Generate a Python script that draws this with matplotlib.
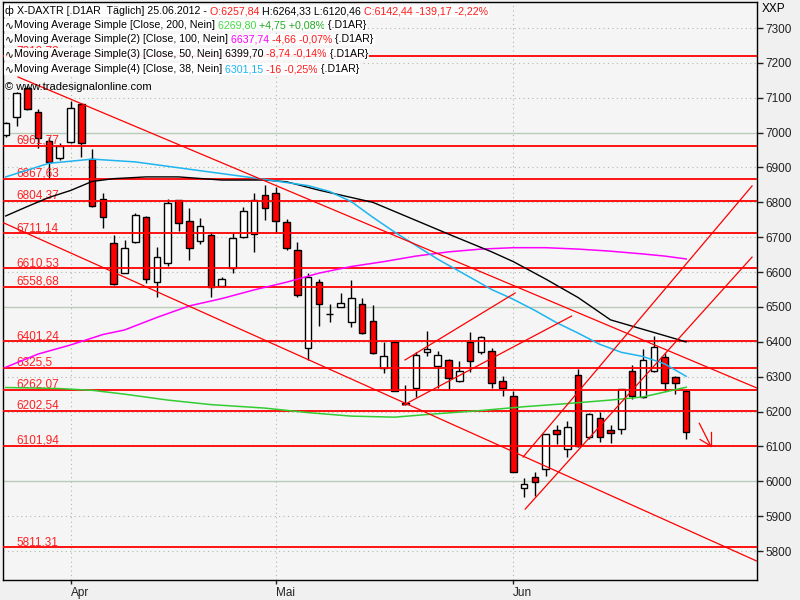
import numpy as np
import matplotlib.pyplot as plt

plt.rcParams['font.family'] = ['Liberation Sans', 'DejaVu Sans']

# --- Kerzen (X-DAXTR, Tageskerzen) ---
dates = ['23.03', '26.03', '27.03', '28.03', '29.03', '30.03',
         '02.04', '03.04', '04.04', '05.04', '10.04', '11.04', '12.04', '13.04', '16.04', '17.04',
         '18.04', '19.04', '20.04', '23.04', '24.04', '25.04', '26.04', '27.04', '30.04',
         '02.05', '03.05', '04.05', '07.05', '08.05', '09.05', '10.05', '11.05', '14.05', '15.05',
         '16.05', '17.05', '18.05', '21.05', '22.05', '23.05', '24.05', '25.05', '28.05', '29.05',
         '30.05', '31.05',
         '01.06', '04.06', '05.06', '06.06', '07.06', '08.06', '11.06', '12.06', '13.06', '14.06',
         '15.06', '18.06', '19.06', '20.06', '21.06', '22.06', '25.06']
opens = [6993, 7044, 7128, 7058, 6976, 6928,
         6974, 7082, 6924, 6809, 6683, 6598, 6685, 6759, 6571, 6625,
         6807, 6747, 6688, 6706, 6561, 6611, 6701, 6710, 6821,
         6826, 6743, 6663, 6381, 6571, 6479, 6501, 6458, 6508, 6460,
         6326, 6399, 6222, 6269, 6372, 6332, 6348, 6289, 6399, 6370,
         6375, 6288,
         6245, 5980, 6011, 6034, 6147, 6094, 6305, 6126, 6181, 6147,
         6151, 6316, 6242, 6317, 6356, 6298, 6257.84]
highs = [7030, 7116, 7135, 7067, 6988, 6969,
         7092, 7085, 6953, 6826, 6706, 6692, 6770, 6760, 6671, 6811,
         6808, 6783, 6754, 6714, 6585, 6711, 6788, 6826, 6850,
         6845, 6751, 6687, 6597, 6580, 6508, 6539, 6577, 6527, 6505,
         6400, 6401, 6276, 6370, 6431, 6374, 6350, 6345, 6427, 6418,
         6383, 6302,
         6259, 6009, 6026, 6135, 6161, 6174, 6322, 6197, 6200, 6161,
         6264, 6334, 6379, 6417, 6369, 6302, 6264.33]
lows = [6988, 7020, 7066, 6955, 6866, 6921,
        6971, 6929, 6788, 6727, 6562, 6596, 6683, 6568, 6529, 6617,
        6719, 6635, 6680, 6529, 6556, 6597, 6697, 6659, 6749,
        6713, 6663, 6530, 6347, 6446, 6458, 6499, 6443, 6422, 6364,
        6310, 6258, 6218, 6241, 6359, 6269, 6262, 6286, 6314, 6364,
        6268, 6244,
        6026, 5954, 5958, 6016, 6108, 6071, 6099, 6120, 6112, 6110,
        6137, 6235, 6239, 6314, 6260, 6251, 6120.46]
closes = [7027, 7114, 7067, 6984, 6916, 6962,
          7070, 6969, 6790, 6757, 6565, 6668, 6765, 6580, 6642, 6797,
          6740, 6668, 6731, 6558, 6580, 6697, 6775, 6807, 6783,
          6747, 6668, 6534, 6585, 6508, 6480, 6510, 6525, 6426, 6369,
          6359, 6259, 6224, 6362, 6379, 6362, 6295, 6317, 6345, 6415,
          6281, 6267,
          6028, 5992, 5997, 6135, 6135, 6157, 6102, 6192, 6126, 6138,
          6264, 6245, 6348, 6384, 6281, 6281, 6142.44]

# --- Gleitende Durchschnitte (Stuetzstellen = Kerzenindex) ---
ma200_idx = [0, 5, 8, 11, 15, 19, 24, 28, 32, 36, 40, 44, 48, 52, 56, 59, 61, 63]
ma200_val = [6269, 6266, 6261, 6250, 6233, 6220, 6210, 6197, 6187, 6184, 6194, 6203,
             6214, 6223, 6233, 6242, 6256, 6269.8]
ma100_idx = [0, 3, 6, 9, 11, 14, 17, 20, 23, 26, 29, 32, 35, 38, 41, 44, 47, 50, 53,
             56, 59, 61, 63]
ma100_val = [6327, 6365, 6391, 6421, 6434, 6470, 6503, 6524, 6549, 6571, 6597, 6616,
             6630, 6646, 6658, 6666, 6670, 6670, 6666, 6660, 6652, 6646, 6637.7]
ma50_idx = [0, 2, 4, 6, 8, 10, 13, 16, 20, 24, 26, 29, 32, 34, 37, 41, 45, 47, 50, 53,
            56, 59, 61, 63]
ma50_val = [6761, 6788, 6814, 6834, 6860, 6868, 6873, 6873, 6864, 6864, 6859, 6835,
            6814, 6800, 6761, 6709, 6658, 6630, 6580, 6527, 6463, 6436, 6418, 6399.7]
ma38_idx = [0, 4, 8, 12, 17, 23, 28, 30, 32, 34, 36, 38, 40, 43, 45, 47, 49, 51, 53,
            55, 57, 59, 61, 63]
ma38_val = [6873, 6912, 6924, 6916, 6895, 6870, 6848, 6831, 6802, 6757, 6715, 6676,
            6637, 6585, 6550, 6522, 6490, 6455, 6425, 6393, 6370, 6358, 6337, 6301.2]

# --- Horizontale Marken ---
levels = [7219.73, 6961.77, 6867.63, 6804.37, 6711.14, 6610.53, 6558.68,
          6401.24, 6325.5, 6262.07, 6202.54, 6101.94, 5811.31]
level_labels = ['7219,73', '6961,77', '6867,63', '6804,37', '6711,14', '6610,53', '6558,68',
                '6401,24', '6325,5', '6262,07', '6202,54', '6101,94', '5811,31']

# --- Trendlinien (Index, Kurs) ---
trend_lines = [
    ((1.14, 7159.5), (69.56, 6267.5)),
    ((-0.25, 6742.0), (69.56, 5771.0)),
    ((36.97, 6348.0), (47.16, 6540.0)),
    ((36.79, 6218.0), (52.4, 6474.0)),
    ((47.9, 6069.6), (69.1, 6847.0)),
    ((48.1, 5920.5), (69.1, 6643.0)),
]
arrow_lines = [
    ((64.22, 6166.4), (65.28, 6101.3)),
    ((64.29, 6120.0), (65.28, 6101.3)),
    ((65.28, 6142.0), (65.28, 6101.3)),
]

month_labels = ['Apr', 'Mai', 'Jun']
y_ticks = list(range(5800, 7301, 100))

# -------------------------------------------------------------------------
fig = plt.figure(figsize=(8, 6), dpi=100, facecolor='#f0f0f0')
ax = fig.add_axes([3 / 800, 20 / 600, 754 / 800, 578 / 600])
ax.set_facecolor('#f5f5f5')

x = np.arange(len(dates))
ax.set_xlim(-0.25, 69.56)
ax.set_ylim(5717, 7374.6)

# Gitter
for v in y_ticks:
    if v % 500 == 0:
        ax.axhline(v, color='#b8ccb8', lw=1.0, zorder=0)
    else:
        ax.axhline(v, color='#a8bca8', lw=0.8, ls=(0, (1, 3)), zorder=0)

month_pos = []
for i in range(1, len(dates)):
    if dates[i][3:] != dates[i - 1][3:]:
        month_pos.append(i)
for p in month_pos:
    ax.axvline(p, color='#a8bca8', lw=0.8, ls=(0, (1, 3)), zorder=0)

# Kerzen
o = np.array(opens)
c = np.array(closes)
ax.vlines(x, lows, highs, color='black', lw=1, zorder=2)
up = c >= o
body_bottom = np.minimum(o, c)
body_h = np.maximum(np.abs(c - o), 1.5)
ax.bar(x, body_h, bottom=body_bottom, width=0.6,
       color=np.where(up, 'white', '#ff0000'), edgecolor='black', linewidth=1, zorder=2.5)

# Horizontale Linien + Beschriftung
ytrans = ax.get_yaxis_transform()
for lv, lab in zip(levels, level_labels):
    ax.axhline(lv, color='#ff0000', lw=1.3, zorder=3)
    ax.annotate(lab, xy=(13 / 754, lv), xycoords=ytrans, xytext=(0, 2),
                textcoords='offset pixels', va='baseline', ha='left',
                color='#ff2020', fontsize=8.5, zorder=3)

# Gleitende Durchschnitte
ax.plot(ma200_idx, ma200_val, color='#33cc33', lw=1.1, zorder=4)
ax.plot(ma100_idx, ma100_val, color='#ff00ff', lw=1.1, zorder=4)
ax.plot(ma50_idx, ma50_val, color='black', lw=1.0, zorder=4)
ax.plot(ma38_idx, ma38_val, color='#1eb4f0', lw=1.1, zorder=4)

# Trendlinien
for (x0, y0), (x1, y1) in trend_lines + arrow_lines:
    ax.plot([x0, x1], [y0, y1], color='#ff0000', lw=0.9, zorder=4)

# Achsen
for s in ax.spines.values():
    s.set_color('black')
    s.set_linewidth(1)
ax.yaxis.tick_right()
ax.set_yticks(y_ticks)
ax.set_yticklabels([str(v) for v in y_ticks])
ax.tick_params(axis='y', direction='out', length=4, width=1, pad=2,
               labelsize=8.5, colors='#222222')
ax.set_xticks(month_pos)
ax.set_xticklabels(month_labels, ha='left')
ax.tick_params(axis='x', direction='out', length=3, width=1, pad=2,
               labelsize=8.5, colors='#222222')
fig.text(762 / 800, 1 - 9 / 600, 'XXP', fontsize=8.5, va='center', ha='left')

# Legende oben links
box = dict(facecolor='white', edgecolor='none', pad=0.6, alpha=0.92)


def text_row(x_px, y_px, pieces, size=7.7):
    prev = ax.annotate(pieces[0][0], xy=(x_px / 800, 1 - y_px / 600), xycoords='figure fraction',
                       va='center', ha='left', color=pieces[0][1], fontsize=size,
                       bbox=box, zorder=10, annotation_clip=False)
    for s, col in pieces[1:]:
        prev = ax.annotate(s, xy=(1, 0.5), xycoords=prev, va='center', ha='left',
                           color=col, fontsize=size, bbox=box, zorder=10,
                           annotation_clip=False)


red = '#ff1a1a'
text_row(5, 11, [('ф ', 'black'), ('X-DAXTR [.D1AR  Täglich] 25.06.2012 - ', 'black'),
                 ('O:6257,84 ', red), ('H:6264,33 L:6120,46 ', 'black'),
                 ('C:6142,44 -139,17 -2,22%', red)])
text_row(5, 25, [('∿', 'black'), ('Moving Average Simple [Close, 200, Nein] ', 'black'),
                 ('6269,80 ', '#44dd44'), ('+4,75 +0,08%', '#22aa22'), (' {.D1AR}', 'black')])
text_row(5, 39.5, [('∿', 'black'), ('Moving Average Simple(2) [Close, 100, Nein] ', 'black'),
                   ('6637,74 ', '#ff00ff'), ('-4,66 -0,07%', red), (' {.D1AR}', 'black')])
text_row(5, 54, [('∿', 'black'), ('Moving Average Simple(3) [Close, 50, Nein] 6399,70 ', 'black'),
                 ('-8,74 -0,14%', red), (' {.D1AR}', 'black')])
text_row(5, 69, [('∿', 'black'), ('Moving Average Simple(4) [Close, 38, Nein] ', 'black'),
                 ('6301,15 ', '#1eb4f0'), ('-16 -0,25%', red), (' {.D1AR}', 'black')])
fig.text(5 / 800, 1 - 86.5 / 600, '© www.tradesignalonline.com', fontsize=8, va='center',
         ha='left', color='black', zorder=10)

fig.savefig('out.png', dpi=100, facecolor=fig.get_facecolor())
